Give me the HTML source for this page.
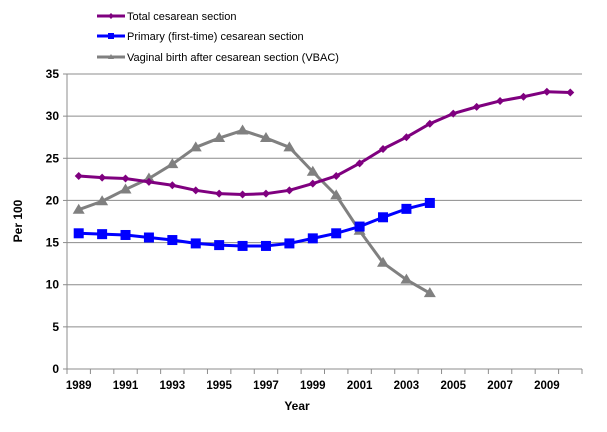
<!DOCTYPE html>
<html><head><meta charset="utf-8"><style>
body{margin:0;background:#fff;font-family:"Liberation Sans",Arial,sans-serif}
svg text{font-family:"Liberation Sans",Arial,sans-serif}
</style></head><body>
<svg id="c" width="607" height="427">
<g id="legend">
<g><line x1="97" y1="16" x2="125" y2="16" stroke="#7f007f" stroke-width="3"/><path d="M111 13 L114 16 L111 19 L108 16Z" fill="#7f007f"/><text x="127" y="20" font-size="11">Total cesarean section</text></g>
<g><line x1="97" y1="36" x2="125" y2="36" stroke="#0000ff" stroke-width="3"/><rect x="108" y="33" width="6" height="6" fill="#0000ff"/><text x="127" y="40" font-size="11">Primary (first-time) cesarean section</text></g>
<g><line x1="97" y1="57" x2="125" y2="57" stroke="#808080" stroke-width="3"/><path d="M111 54 L114 59 L108 59Z" fill="#808080"/><text x="127" y="61" font-size="11">Vaginal birth after cesarean section (VBAC)</text></g>
</g>
<g id="grid"></g><g id="axes"></g><g id="series"></g>
<text x="22" y="221" font-size="12" font-weight="bold" text-anchor="middle" transform="rotate(-90 22 221)">Per 100</text>
<text x="297" y="410" font-size="12" font-weight="bold" text-anchor="middle">Year</text>
</svg>
<script>
const years=[1989,1990,1991,1992,1993,1994,1995,1996,1997,1998,1999,2000,2001,2002,2003,2004,2005,2006,2007,2008,2009,2010];
const totalVals=[22.9,22.7,22.6,22.2,21.8,21.2,20.8,20.7,20.8,21.2,22.0,22.9,24.4,26.1,27.5,29.1,30.3,31.1,31.8,32.3,32.9,32.8];
const primaryVals=[16.1,16.0,15.9,15.6,15.3,14.9,14.7,14.6,14.6,14.9,15.5,16.1,16.9,18.0,19.0,19.7];
const vbacVals=[18.9,19.9,21.3,22.6,24.3,26.3,27.4,28.3,27.4,26.3,23.4,20.6,16.4,12.6,10.6,9.0];
const yTicks=[0,5,10,15,20,25,30,35];
const xLabels=[1989,1991,1993,1995,1997,1999,2001,2003,2005,2007,2009];
const NS="http://www.w3.org/2000/svg";
const L=67,R=582,T=74,B=369,yMax=35;
const step=(R-L)/years.length;
const xs=i=>L+step*(i+0.5);
const ys=v=>B-(v/yMax)*(B-T);
function mk(tag,at,parent){const e=document.createElementNS(NS,tag);for(const k in at)e.setAttribute(k,at[k]);parent.appendChild(e);return e;}
const grid=document.getElementById('grid'),axes=document.getElementById('axes'),ser=document.getElementById('series');
yTicks.forEach(t=>{
 if(t>0){const g=mk('line',{x1:L,x2:R,y1:ys(t),y2:ys(t),stroke:'#8c8c8c','stroke-width':1},grid);
 
 }
 const tx=mk('text',{x:L-8,y:ys(t)+4,'font-size':12,'font-weight':'bold','text-anchor':'end'},axes);
 tx.textContent=t;
 
 
 mk('line',{x1:L-4,x2:L,y1:ys(t),y2:ys(t),stroke:'#8c8c8c'},axes);
});
mk('line',{x1:L,x2:L,y1:T,y2:B,stroke:'#8c8c8c'},axes);
mk('line',{x1:L,x2:R,y1:B,y2:B,stroke:'#8c8c8c'},axes);
for(let i=0;i<=years.length;i++)mk('line',{x1:L+step*i,x2:L+step*i,y1:B,y2:B+5,stroke:'#8c8c8c'},axes);
xLabels.forEach(y=>{const i=years.indexOf(y);
 const tx=mk('text',{x:xs(i),y:B+20,'font-size':11.5,'font-weight':'bold','text-anchor':'middle'},axes);
 tx.textContent=y;
 
 });
function series(vals,color,shape,name){
 const g=mk('g',{},ser);
 
 
 mk('polyline',{points:vals.map((v,i)=>xs(i)+','+ys(v)).join(' '),fill:'none',stroke:color,'stroke-width':3,'stroke-linejoin':'round'},g);
 vals.forEach((v,i)=>{const x=xs(i),y=ys(v);let m;
  if(shape==='d')m=mk('path',{d:`M${x} ${y-4}L${x+4} ${y}L${x} ${y+4}L${x-4} ${y}Z`,fill:color},g);
  else if(shape==='s')m=mk('rect',{x:x-5,y:y-5,width:10,height:10,fill:color},g);
  else m=mk('path',{d:`M${x} ${y-6}L${x+6} ${y+4}L${x-6} ${y+4}Z`,fill:color},g);
  
  });
}
series(vbacVals,'#808080','t','vbac-series');
series(totalVals,'#7f007f','d','total-series');
series(primaryVals,'#0000ff','s','primary-series');
</script>
</body></html>
